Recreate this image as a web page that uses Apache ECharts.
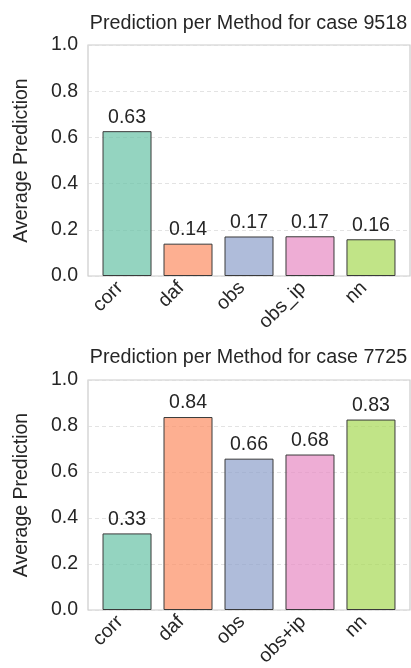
<!DOCTYPE html>
<html>
<head>
<meta charset="utf-8">
<script src="https://cdn.jsdelivr.net/npm/echarts@6/dist/echarts.min.js"></script>
<style>html,body{margin:0;padding:0;background:#fff}#c{width:411px;height:668px}</style>
</head>
<body>
<div id="c"></div>
<script>
const catsTop = ['corr', 'daf', 'obs', 'obs_ip', 'nn'];
const valsTop = [0.627, 0.140, 0.171, 0.172, 0.159];
const titleTop = 'Prediction per Method for case 9518';

const catsBottom = ['corr', 'daf', 'obs', 'obs+ip', 'nn'];
const valsBottom = [0.333, 0.839, 0.658, 0.676, 0.828];
const titleBottom = 'Prediction per Method for case 7725';

const yTicks = [0, 0.2, 0.4, 0.6, 0.8, 1.0];
const yName = 'Average Prediction';

const palette = ['#66c2a5', '#fc8d62', '#8da0cb', '#e78ac3', '#a6d854'];

const FONT = '"Liberation Sans", Arial, sans-serif';
const TXT = '#262626';
const FS = 19.5;

function withAlpha(hex, a) {
  const n = parseInt(hex.slice(1), 16);
  return 'rgba(' + (n >> 16 & 255) + ',' + (n >> 8 & 255) + ',' + (n & 255) + ',' + a + ')';
}

const grids = [
  { left: 88, right: 1, top: 45, height: 231 },
  { left: 88, right: 1, top: 380, height: 230 }
];

function xAxisFor(cats, gi) {
  return {
    type: 'value', gridIndex: gi, min: -0.64, max: 4.64,
    axisLine: { show: false }, axisTick: { show: false }, splitLine: { show: false },
    axisLabel: {
      customValues: cats.map((c, i) => i),
      formatter: v => cats[Math.round(v)] || '',
      rotate: 45, fontSize: FS, color: TXT, fontFamily: FONT, margin: 16, verticalAlign: 'bottom'
    }
  };
}
function yAxisFor(gi) {
  return {
    type: 'value', gridIndex: gi, min: yTicks[0], max: yTicks[yTicks.length - 1], interval: 0.2,
    name: yName, nameLocation: 'middle', nameGap: 56,
    nameTextStyle: { fontSize: FS, color: TXT, fontFamily: FONT },
    axisLine: { show: false }, axisTick: { show: false },
    axisLabel: { formatter: v => v.toFixed(1), fontSize: FS, color: TXT, fontFamily: FONT, margin: 10, showMaxLabel: true },
    splitLine: { show: true, lineStyle: { color: '#dcdcdc', type: [4, 3], width: 0.8 } }
  };
}
function seriesFor(cats, vals, gi) {
  return {
    type: 'bar', xAxisIndex: gi, yAxisIndex: gi, barWidth: 49,
    data: cats.map((c, i) => ({
      value: [i, vals[i]],
      itemStyle: { color: withAlpha(palette[i], 0.7), borderColor: '#3a3a3a', borderWidth: 1 }
    })),
    label: {
      show: true, position: 'top', distance: 4, fontSize: FS, color: TXT, fontFamily: FONT,
      formatter: p => p.value[1].toFixed(2)
    }
  };
}

const chart = echarts.init(document.getElementById('c'), null, { renderer: 'canvas' });
chart.setOption({
  animation: false,
  backgroundColor: '#fff',
  title: [
    { text: titleTop, left: 243.5, top: 9, textAlign: 'center', textStyle: { fontSize: 19.7, fontWeight: 'normal', color: TXT, fontFamily: FONT } },
    { text: titleBottom, left: 243.5, top: 343, textAlign: 'center', textStyle: { fontSize: 19.7, fontWeight: 'normal', color: TXT, fontFamily: FONT } }
  ],
  grid: grids.map(g => Object.assign({ show: true, borderColor: '#cccccc', borderWidth: 1.2, backgroundColor: '#fff', containLabel: false, outerBoundsMode: 'none' }, g)),
  xAxis: [xAxisFor(catsTop, 0), xAxisFor(catsBottom, 1)],
  yAxis: [yAxisFor(0), yAxisFor(1)],
  series: [seriesFor(catsTop, valsTop, 0), seriesFor(catsBottom, valsBottom, 1)]
});
</script>
</body>
</html>
